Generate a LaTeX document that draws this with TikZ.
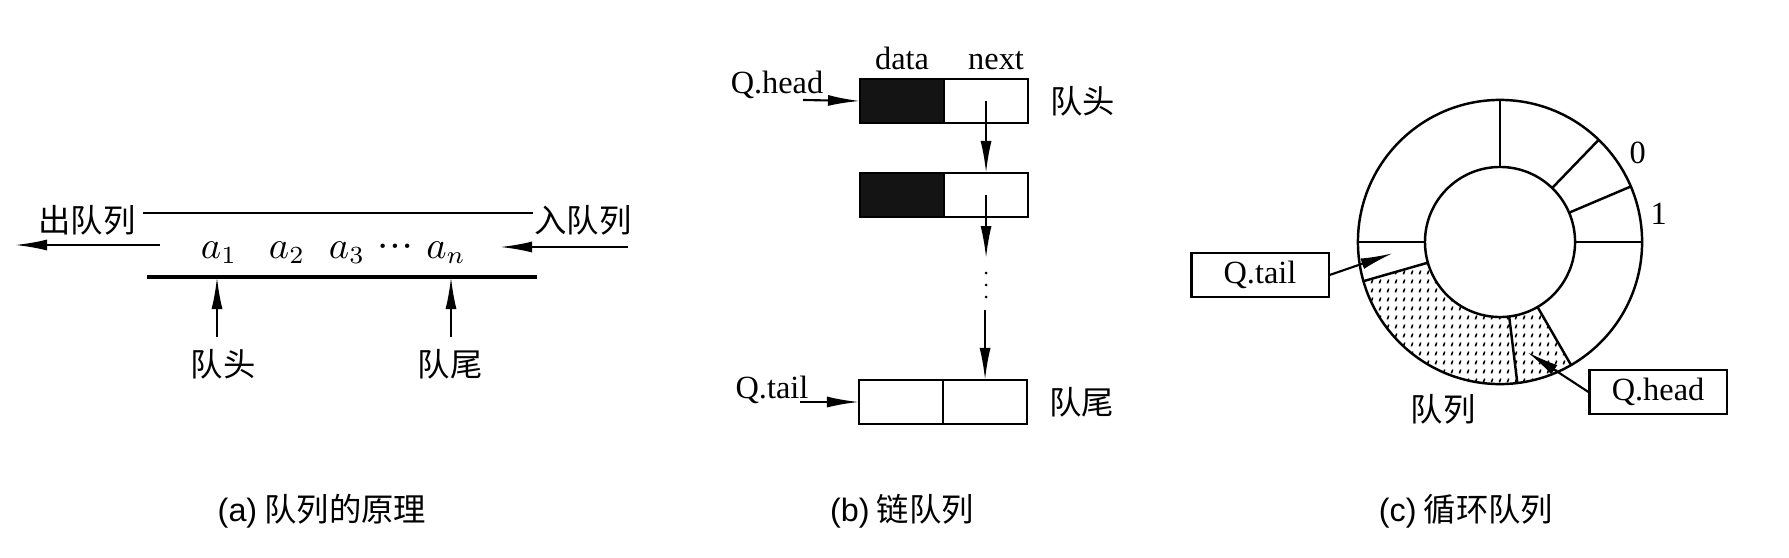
\documentclass[tikz,border=0pt]{standalone}
\usepackage{fontspec}
\setmainfont{Liberation Serif}
\newfontfamily\cjk{Noto Sans CJK SC}
\newfontfamily\capsans{Liberation Sans}
\usetikzlibrary{positioning, calc, arrows.meta, patterns.meta}
\newcommand\fsz{\fontsize{9.2}{11}\selectfont}

\tikzdeclarepattern{name=speckle, type=uncolored,
  bounding box={(0,0) and (2.2pt,2.6pt)}, tile size={(2.2pt,2.6pt)},
  code={\draw[line width=0.45pt] (0.7pt,0.5pt) -- (1.1pt,1.7pt);}}

\begin{document}
\begin{tikzpicture}[x=0.01cm,y=0.01cm,font=\fsz,
    zh/.style={font=\fsz\cjk},
    cell/.style={draw,line width=0.6pt,minimum width=0.84cm,minimum height=0.44cm,inner sep=0pt,outer sep=0pt},
    datacell/.style={cell,fill=black!92},
    tag/.style={draw,line width=0.6pt,minimum width=1.37cm,minimum height=0.435cm,inner sep=0pt},
    arr/.style={-{Latex[length=3.2mm,width=1.1mm]},line width=0.6pt}]
      \useasboundingbox (0,0) rectangle (1789,557);

      % (a) queue principle
      \node[zh] (out_label) at (87,337) {出队列};
      \node[zh] (in_label) at (583,337) {入队列};
      \coordinate (top_l) at (143,344);
      \coordinate (top_r) at (533,344);
      \coordinate (bot_l) at (147,280);
      \coordinate (bot_r) at (537,280);
      \draw[line width=0.8pt] (top_l) -- (top_r);
      \draw[line width=1.1pt] (bot_l) -- (bot_r);
      \foreach \x/\t/\n in {219/$a_1$/a_1, 287/$a_2$/a_2, 347/$a_3$/a_3, 395/···/a_dots, 446/$a_n$/a_n}
        \node[anchor=base,font=\fontsize{10.5}{12}\selectfont] (\n) at (\x,299) {\t};
      \coordinate (deq_s) at (160,312);
      \coordinate (deq_e) at (15,312);
      \draw[arr] (deq_s) -- (deq_e);
      \coordinate (enq_s) at (628,310);
      \coordinate (enq_e) at (500,310);
      \draw[arr] (enq_s) -- (enq_e);
      \node[zh] (front_label) at (223,193) {队头};
      \node[zh] (rear_label) at (450,193) {队尾};
      \coordinate (front_pt) at (217,280);
      \coordinate (rear_pt) at (451,280);
      \draw[arr] (front_pt |- front_label.north) -- (front_pt);
      \draw[arr] (rear_pt |- rear_label.north) -- (rear_pt);

      % (b) linked queue
      \node[datacell] (d_1) at (902,456) {};
      \node[cell,right=0pt of d_1] (n_1) {};
      \node[datacell] (d_2) at (902,362) {};
      \node[cell,right=0pt of d_2] (n_2) {};
      \node[cell] (d_3) at (901,155) {};
      \node[cell,right=0pt of d_3] (n_3) {};
      \node[above=-1pt of d_1] (data_label) {data};
      \node[above=-1pt of n_1,xshift=0.1cm] (next_label) {next};
      \node (qh_label) at (777,472) {Q.head};
      \coordinate (qh_from) at (803,457);
      \draw[arr] (qh_from) -- (d_1.west);
      \node[zh,right=0.1cm of n_1] (front_b) {队头};
      \draw[arr] (n_1.center) -- (n_2.north);
      \coordinate (gap_top) at ($(n_2.center)+(0,-0.63cm)$);
      \coordinate (gap_bot) at ($(n_3.north)+(0,0.70cm)$);
      \draw[arr] (n_2.center) -- (gap_top);
      \foreach \dy in {0.15,0.27,0.39}
        \fill ($(gap_top)+(0,-\dy cm)$) circle (0.015cm);
      \draw[arr] (gap_bot) -- (n_3.north);
      \node (qt_label) at (772,167) {Q.tail};
      \coordinate (qt_from) at (800,155);
      \draw[arr] (qt_from) -- (d_3.west);
      \node[zh,right=0.1cm of n_3] (rear_b) {队尾};

      % (c) circular queue
      \coordinate (ring) at (1500,315);
      \def\rin{0.75cm}
      \def\rout{1.42cm}
      \fill[pattern=speckle] ($(ring)+(196:\rin)$) arc[start angle=196,end angle=300,radius=\rin]
        -- ($(ring)+(300:\rout)$) arc[start angle=300,end angle=196,radius=\rout] -- cycle;
      \draw[line width=0.7pt] (ring) circle[radius=\rout];
      \draw[line width=0.7pt] (ring) circle[radius=\rin];
      \foreach \a in {0,23,46,90,180,196,277,300}
        \draw[line width=0.7pt] ($(ring)+(\a:\rin)$) -- ($(ring)+(\a:\rout)$);
      \node (idx_0) at ($(ring)+(33:1.64cm)$) {0};
      \node (idx_1) at ($(ring)+(10:1.61cm)$) {1};
      \node[zh] (ring_label) at (1443,148) {队列};
      \node[tag] (qtail_tag) at (1260,282) {Q.tail};
      \node[tag] (qhead_tag) at (1658,165) {Q.head};
      \coordinate (tail_cell) at ($(ring)+(186:1.08cm)$);
      \coordinate (head_cell) at ($(ring)+(284:1.135cm)$);
      \draw[arr] (qtail_tag.east) -- (tail_cell);
      \draw[arr] (qhead_tag.west) -- (head_cell);

      % captions
      \node[zh] (cap_a) at (322,46) {{\capsans (a)} 队列的原理};
      \node[zh] (cap_b) at (902,46) {{\capsans (b)} 链队列};
      \node[zh] (cap_c) at (1466,46) {{\capsans (c)} 循环队列};
\end{tikzpicture}
\end{document}
